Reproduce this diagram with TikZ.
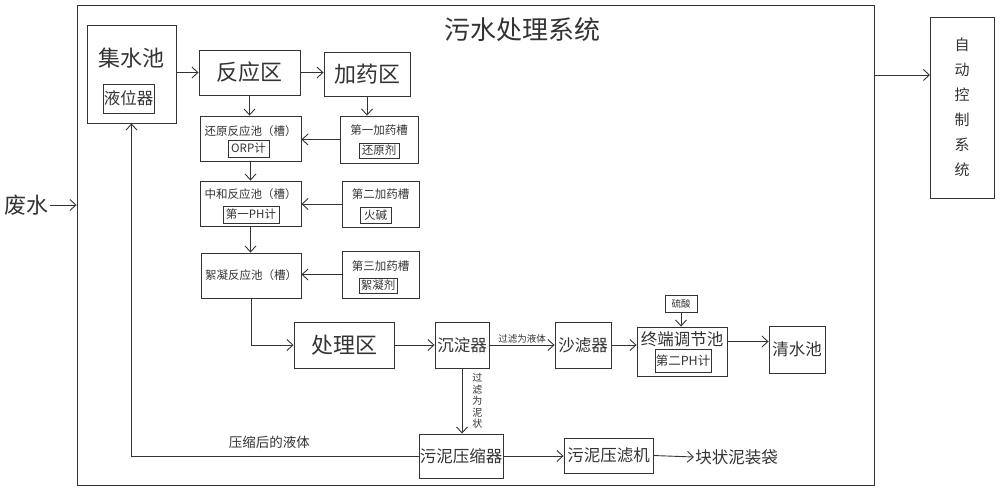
\documentclass[tikz,border=0pt]{standalone}
\usepackage{fontspec}
\setmainfont{Noto Sans CJK SC}
\usetikzlibrary{arrows.meta}

\begin{document}
\begin{tikzpicture}[x=1pt,y=-1pt,line width=0.9pt,color=black!80,
  every node/.style={inner sep=1pt},
  box/.style={draw,inner sep=0pt},
  arr/.style={-{Straight Barb[length=6pt,width=11pt]}},
  huge/.style={font=\fontsize{26}{30}\selectfont},
  big/.style={font=\fontsize{22}{26}\selectfont},
  mid/.style={font=\fontsize{16.5}{20}\selectfont},
  small/.style={font=\fontsize{11.5}{14}\selectfont},
  tiny/.style={font=\fontsize{9.5}{11.5}\selectfont}]
\useasboundingbox (0,0) rectangle (1000,491);
\node[box,minimum width=797pt,minimum height=480pt] (sys) at (475.5,245) {};
\node[huge] (title) at (522,30) {污水处理系统};
\node[big] (feishui) at (27,205) {废水};
\draw[arr] (feishui.east) -- (feishui.east -| sys.west);

\node[box,minimum width=89pt,minimum height=98pt] (jishui) at (131.5,74) {};
\node[big] (jishui txt) at (131.5,58) {集水池};
\node[box,mid,minimum width=51pt,minimum height=29pt] (yewei) at (128.5,98.5) {液位器};
\node[box,big,minimum width=101pt,minimum height=45pt] (fanying) at (249.5,72.5) {反应区};
\node[box,big,minimum width=86pt,minimum height=44pt] (jiayao) at (367,74) {加药区};

\node[box,minimum width=101pt,minimum height=45pt] (huanyuan) at (250.5,138.5) {};
\node[small] (huanyuan txt) at (250.5,131) {还原反应池（槽）};
\node[box,small,minimum width=41pt,minimum height=17pt] (orp) at (248.5,148.5) {ORP计};
\node[box,minimum width=78pt,minimum height=47pt] (yao1) at (379,139.5) {};
\node[small] (yao1 txt) at (379,130) {第一加药槽};
\node[box,small,minimum width=40pt,minimum height=15pt] (huanyuanji) at (379,150.5) {还原剂};

\node[box,minimum width=101pt,minimum height=45pt] (zhonghe) at (250.5,203.5) {};
\node[small] (zhonghe txt) at (250.5,194) {中和反应池（槽）};
\node[box,small,minimum width=56pt,minimum height=17pt] (ph1) at (251,214.5) {第一PH计};
\node[box,minimum width=77pt,minimum height=46pt] (yao2) at (380.5,204) {};
\node[small] (yao2 txt) at (380.5,194) {第二加药槽};
\node[box,small,minimum width=31pt,minimum height=16pt] (huojian) at (375.5,215) {火碱};

\node[box,small,minimum width=100pt,minimum height=45pt] (xuning) at (251,275.5) {絮凝反应池（槽）};
\node[box,minimum width=77pt,minimum height=47pt] (yao3) at (380.5,274.5) {};
\node[small] (yao3 txt) at (380.5,266) {第三加药槽};
\node[box,small,minimum width=38pt,minimum height=15pt] (xuningji) at (378,285.5) {絮凝剂};

\node[box,big,minimum width=100pt,minimum height=46pt] (chuli) at (344,345) {处理区};
\node[box,mid,minimum width=54pt,minimum height=46pt] (chendian) at (462,345) {沉淀器};
\node[box,mid,minimum width=56pt,minimum height=46pt] (shalv) at (583,345) {沙滤器};
\node[box,minimum width=90pt,minimum height=49pt] (zhongduan) at (682,351.5) {};
\node[mid] (zhongduan txt) at (682,339) {终端调节池};
\node[box,font=\fontsize{12.5}{15}\selectfont,minimum width=56pt,minimum height=23pt] (ph2) at (683,360.5) {第二PH计};
\node[box,tiny,minimum width=32pt,minimum height=17pt] (liusuan) at (681,303.5) {硫酸};
\node[box,mid,minimum width=56pt,minimum height=47pt] (qingshui) at (797,349.5) {清水池};
\node[box,mid,minimum width=84pt,minimum height=44pt] (yasuo) at (461,456) {污泥压缩器};
\node[box,mid,minimum width=89pt,minimum height=35pt] (yalv) at (608.5,455.5) {污泥压滤机};
\node[mid,anchor=west] (kuai) at (694,457) {块状泥装袋};
\node[box,align=center,font=\fontsize{15}{25}\selectfont,minimum width=64pt,minimum height=181pt] (auto) at (962,107.5) {自\\动\\控\\制\\系\\统};

\draw[arr] (jishui.east |- fanying) -- (fanying.west);
\draw[arr] (fanying.east) -- (fanying.east -| jiayao.west);
\draw[arr] (fanying.south) -- (fanying.south |- huanyuan.north);
\draw[arr] (jiayao.south) -- (jiayao.south |- yao1.north);
\draw[arr] (yao1.west) -- (yao1.west -| huanyuan.east);
\draw[arr] (huanyuan.south) -- (huanyuan.south |- zhonghe.north);
\draw[arr] (yao2.west) -- (yao2.west -| zhonghe.east);
\draw[arr] (zhonghe.south) -- (zhonghe.south |- xuning.north);
\draw[arr] (yao3.west) -- (yao3.west -| xuning.east);
\draw[arr] (xuning.south) |- (chuli.west);
\draw[arr] (chuli.east) -- (chendian.west);
\draw[arr] (chendian.east) -- node[above,tiny] {过滤为液体} (shalv.west);
\draw[arr] (shalv.east) -- (shalv.east -| zhongduan.west);
\draw[arr] (liusuan.south) -- (liusuan.south |- zhongduan.north);
\coordinate (zd out) at ([yshift=10pt]zhongduan.east);
\draw[arr] (zd out) -- (zd out -| qingshui.west);
\draw[arr] (chendian.south) -- node[right,align=center,font=\fontsize{10}{11.5}\selectfont,xshift=9pt] {过\\滤\\为\\泥\\状} (chendian.south |- yasuo.north);
\draw[arr] (yasuo.west) -| node[pos=0.26,above=6pt,font=\fontsize{13.5}{16}\selectfont] {压缩后的液体} (jishui.south);
\draw[arr] (yasuo.east) -- (yasuo.east -| yalv.west);
\draw[arr] (yalv.east) -- (kuai.west);
\coordinate (ctrl in) at (930,75);
\draw[arr] (ctrl in -| sys.east) -- (ctrl in);
\end{tikzpicture}
\end{document}
